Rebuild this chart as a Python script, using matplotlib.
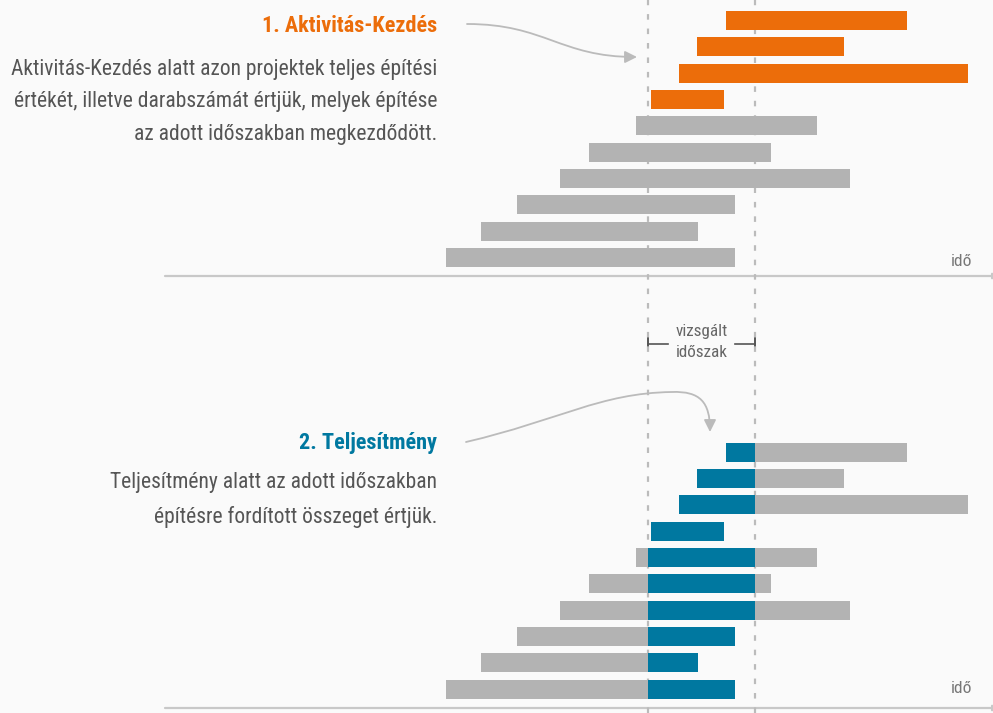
import numpy as np
import matplotlib.pyplot as plt
from matplotlib.path import Path
from matplotlib.patches import FancyArrowPatch

# projekt kezdes / befejezes, idoegysegben (vizsgalt idoszak = 0..1)
starts = [0.73, 0.46, 0.29, 0.03, -0.11, -0.55, -0.82, -1.22, -1.56, -1.89]
ends = [2.42, 1.83, 2.99, 0.71, 1.58, 1.15, 1.89, 0.81, 0.47, 0.81]
period = [0.0, 1.0]

title1 = "1. Aktivitás-Kezdés"
text1 = ["Aktivitás-Kezdés alatt azon projektek teljes építési",
         "értékét, illetve darabszámát értjük, melyek építése",
         "az adott időszakban megkezdődött."]
title2 = "2. Teljesítmény"
text2 = ["Teljesítmény alatt az adott időszakban",
         "építésre fordított összeget értjük."]

ORANGE = "#EC6D0A"
BLUE = "#0078A0"
GRAY = "#B3B3B3"
TXT = "#555555"
BG = "#FAFAFA"

plt.rcParams['font.family'] = ['Roboto Condensed', 'Liberation Sans Narrow',
                               'Roboto', 'DejaVu Sans']

W, H = 993, 713
fig = plt.figure(figsize=(W/100, H/100), dpi=100, facecolor=BG)

# overlay axes in pixel units for texts / arrows
ov = fig.add_axes([0, 0, 1, 1])
ov.set_xlim(0, W); ov.set_ylim(H, 0)
ov.axis("off")

# main axes: time units horizontally
ax = fig.add_axes([0, 0, 1, 1])
x0px, pw = 648, 107
ax.set_xlim(-x0px/pw, (W-x0px)/pw)
ax.set_ylim(H, 0)
ax.axis("off")
ax.patch.set_alpha(0)

s = np.array(starts); e = np.array(ends)
n = len(s)
rows_top = 20.5 + 26.35*np.arange(n)
rows_bot = 452 + 26.35*np.arange(n)
bh = 19

# dashed period lines
for p in period:
    ax.axvline(p, color="#BBBBBB", lw=1.6, ls=(0, (2.5, 4)), zorder=0)

# top panel: starting in period -> orange
cols = [ORANGE if period[0] <= a <= period[1] else GRAY for a in s]
ax.barh(rows_top, e - s, left=s, height=bh, color=cols, edgecolor="none", zorder=2)

# bottom panel: part inside the period -> blue
ax.barh(rows_bot, e - s, left=s, height=bh, color=GRAY, edgecolor="none", zorder=2)
bl = np.clip(s, period[0], period[1]); br = np.clip(e, period[0], period[1])
ax.barh(rows_bot, br - bl, left=bl, height=bh, color=BLUE, edgecolor="none", zorder=3)

# time axes lines
for yb in (276, 708):
    ov.annotate("", xy=(999, yb), xytext=(165, yb), annotation_clip=False,
                arrowprops=dict(arrowstyle="-|>", color="#C8C8C8", lw=1.6,
                                shrinkA=0, shrinkB=0, mutation_scale=8))
ov.text(962, 266, "idő", ha="center", va="baseline", fontsize=12.5, color="#777777")
ov.text(962, 693, "idő", ha="center", va="baseline", fontsize=12.5, color="#777777")

# vizsgalt idoszak bracket
bc = "#555555"
ov.plot([648, 648], [337, 350], color=bc, lw=1.4)
ov.plot([648, 668], [343.5, 343.5], color=bc, lw=1.2)
ov.plot([755, 755], [337, 350], color=bc, lw=1.4)
ov.plot([735, 755], [343.5, 343.5], color=bc, lw=1.2)
ov.text(702, 336, "vizsgált", ha="center", va="baseline", fontsize=12.3, color="#666666")
ov.text(702, 357, "időszak", ha="center", va="baseline", fontsize=12.3, color="#666666")

# titles and descriptions
ov.text(437, 32, title1, ha="right", va="baseline", fontsize=16, fontweight="bold", color=ORANGE)
for i, t in enumerate(text1):
    ov.text(437, 75 + 32.5*i, t, ha="right", va="baseline", fontsize=15.5, color=TXT)
ov.text(437, 449, title2, ha="right", va="baseline", fontsize=16, fontweight="bold", color=BLUE)
for i, t in enumerate(text2):
    ov.text(437, 488 + 35*i, t, ha="right", va="baseline", fontsize=15.5, color=TXT)

# curved arrows
p1 = Path([(467, 24), (545, 24), (560, 57), (637, 57)],
          [Path.MOVETO, Path.CURVE4, Path.CURVE4, Path.CURVE4])
ov.add_patch(FancyArrowPatch(path=p1, arrowstyle="-|>", color="#BBBBBB", lw=1.3,
                             mutation_scale=18))
p2 = Path([(466, 442), (560, 420), (600, 393), (672, 392),
           (700, 391), (710, 402), (710, 432)],
          [Path.MOVETO, Path.CURVE4, Path.CURVE4, Path.CURVE4,
           Path.CURVE4, Path.CURVE4, Path.CURVE4])
ov.add_patch(FancyArrowPatch(path=p2, arrowstyle="-|>", color="#BBBBBB", lw=1.3,
                             mutation_scale=18))

fig.savefig("out.png", dpi=100, facecolor=BG)
